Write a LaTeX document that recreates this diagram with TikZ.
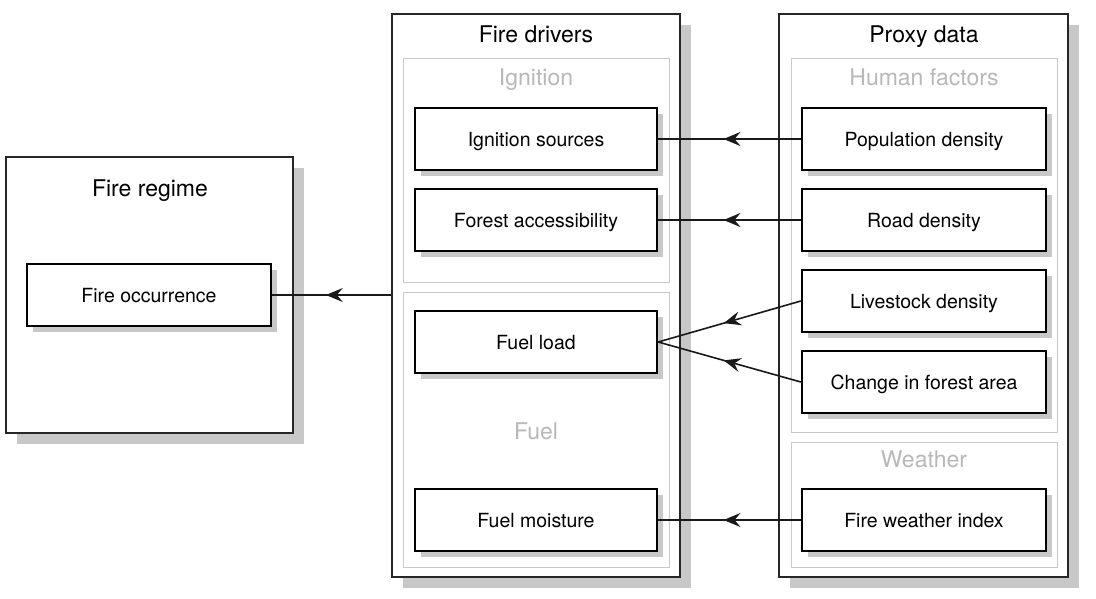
\documentclass[tikz,border=0pt]{standalone}
\usepackage{fontspec}
\setmainfont{TeX Gyre Heros}
\usetikzlibrary{shadows,arrows.meta,decorations.markings}
\definecolor{shadowgray}{HTML}{C8C8C8}
\definecolor{groupline}{HTML}{CACACA}
\definecolor{grouptext}{HTML}{B8B8B8}
\tikzset{
  outerbox/.style={draw=black!85, line width=1.1pt, fill=white, rectangle, inner sep=0pt,
    drop shadow={shadow xshift=11pt, shadow yshift=-11pt, fill=shadowgray, opacity=1}},
  groupbox/.style={draw=groupline, line width=1pt, rectangle, inner sep=0pt},
  itembox/.style={draw=black, line width=2.4pt, fill=white, rectangle, inner sep=0pt,
    font=\fontsize{19.5}{22}\selectfont, text height=14pt, text depth=0pt,
    drop shadow={shadow xshift=6pt, shadow yshift=-6pt, fill=shadowgray, opacity=1}},
  titletext/.style={font=\fontsize{23}{26}\selectfont, inner sep=0pt, text height=16.5pt, text depth=0pt},
  grouptitle/.style={font=\fontsize{23}{26}\selectfont, text=grouptext, inner sep=0pt, text height=16.5pt, text depth=0pt},
  conn/.style={draw=black!90, line width=1.6pt,
    postaction={decorate, decoration={markings,
      mark=at position 0.5 with {\arrow[xshift=6pt]{Stealth[length=17pt,width=14pt,inset=6pt]}}}}}
}
\begin{document}
\begin{tikzpicture}[x=1pt,y=-1pt]
\useasboundingbox (0,0) rectangle (1096,598);
% outer boxes
\node[outerbox, minimum width=287pt, minimum height=276pt] (regime) at (149.5,295) {};
\node[outerbox, minimum width=288pt, minimum height=563pt] (drivers) at (536,295.5) {};
\node[outerbox, minimum width=289pt, minimum height=563pt] (proxy) at (923.5,295.5) {};
% groups
\node[groupbox, minimum width=266pt, minimum height=224pt] (gign) at (536,170) {};
\node[groupbox, minimum width=266pt, minimum height=275pt] (gfuel) at (536,429.5) {};
\node[groupbox, minimum width=266pt, minimum height=374pt] (ghum) at (924,245) {};
\node[groupbox, minimum width=266pt, minimum height=125pt] (gwea) at (924,504.5) {};
% titles
\node[titletext] (tregime) at (150,188) {Fire regime};
\node[titletext] (tdrivers) at (536,34) {Fire drivers};
\node[titletext] (tproxy) at (924,34) {Proxy data};
\node[grouptitle] (tign) at (536,77.5) {Ignition};
\node[grouptitle] (tfuel) at (536,431) {Fuel};
\node[grouptitle] (thum) at (924,77.5) {Human factors};
\node[grouptitle] (twea) at (924,459.5) {Weather};
% items
\node[itembox, minimum width=244pt, minimum height=62pt] (occ) at (149,295) {Fire occurrence};
\node[itembox, minimum width=242pt, minimum height=62pt] (ign) at (536,139) {Ignition sources};
\node[itembox, minimum width=242pt, minimum height=62pt] (acc) at (536,220) {Forest accessibility};
\node[itembox, minimum width=242pt, minimum height=62pt] (load) at (536,342) {Fuel load};
\node[itembox, minimum width=242pt, minimum height=62pt] (moist) at (536,520) {Fuel moisture};
\node[itembox, minimum width=244pt, minimum height=62pt] (pop) at (924,139) {Population density};
\node[itembox, minimum width=244pt, minimum height=62pt] (road) at (924,220) {Road density};
\node[itembox, minimum width=244pt, minimum height=62pt] (live) at (924,301) {Livestock density};
\node[itembox, minimum width=244pt, minimum height=62pt] (forest) at (924,382) {Change in forest area};
\node[itembox, minimum width=244pt, minimum height=62pt] (fwi) at (924,520) {Fire weather index};
% connectors
\draw[conn] (occ.east -| drivers.west) -- (occ.east);
\draw[conn] (pop.west) -- (ign.east);
\draw[conn] (road.west) -- (acc.east);
\draw[conn] (live.west) -- (load.east);
\draw[conn] (forest.west) -- (load.east);
\draw[conn] (fwi.west) -- (moist.east);
\end{tikzpicture}
\end{document}
